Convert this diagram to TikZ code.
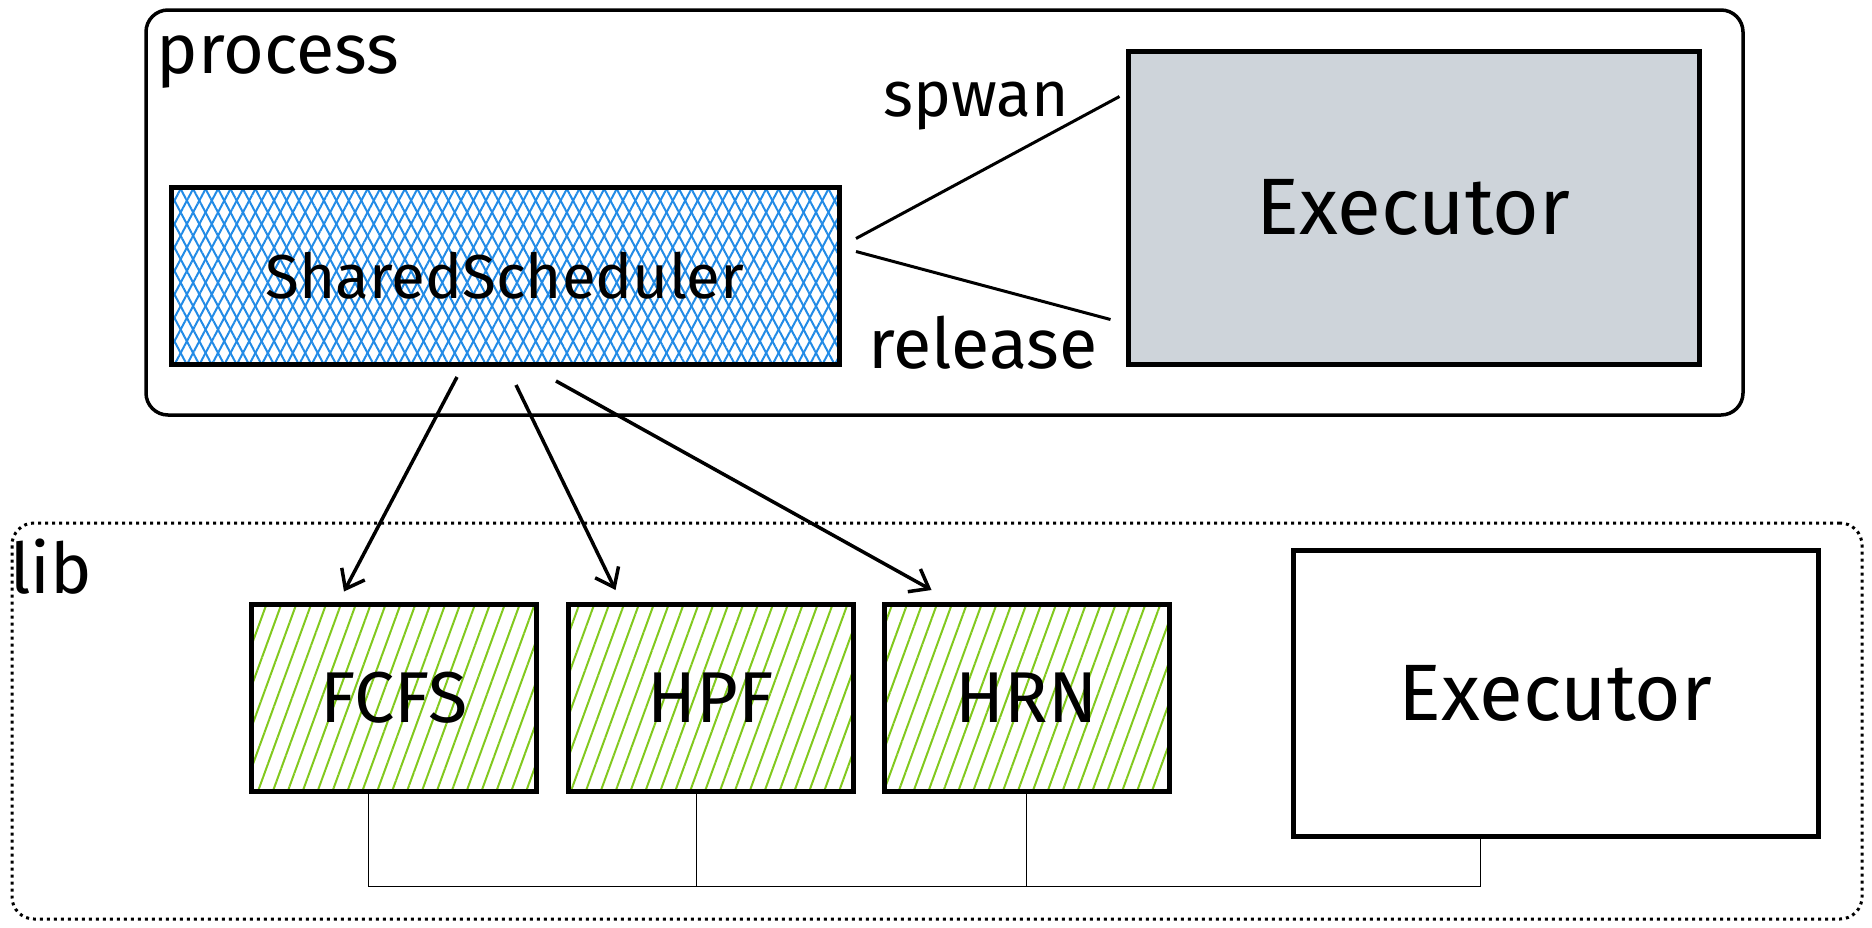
\documentclass[tikz,border=0pt]{standalone}
\usepackage{fontspec}
\setmainfont{Fira Sans}
\usepackage{tikz}
\usetikzlibrary{arrows.meta,patterns.meta,positioning}
\definecolor{hatchblue}{RGB}{34,139,230}
\definecolor{hatchgreen}{RGB}{130,201,30}
\definecolor{execgray}{RGB}{206,212,218}
\tikzset{
  procframe/.style={draw, line width=3.5pt, rounded corners=22pt},
  libframe/.style={draw, line width=3pt, rounded corners=22pt, dash pattern=on 3pt off 4pt},
  tag/.style={inner sep=0pt, font=\fontsize{64}{68}\selectfont},
  box/.style={draw, line width=5pt, inner sep=0pt, font=\fontsize{72}{76}\selectfont},
  schedbox/.style={box, font=\fontsize{62}{66}\selectfont,
    preaction={pattern={Lines[angle=62,distance=11pt,line width=2pt]}, pattern color=hatchblue},
    pattern={Lines[angle=-62,distance=11pt,line width=2pt]}, pattern color=hatchblue},
  algbox/.style={box, minimum width=285pt, minimum height=187pt,
    pattern={Lines[angle=70,distance=14pt,line width=2pt]}, pattern color=hatchgreen},
  execbox/.style={box, font=\fontsize{80}{84}\selectfont},
  flow/.style={-{Straight Barb[length=17pt,width=26pt,line width=3.5pt]}, line width=3.5pt},
  spawnline/.style={line width=3pt},
  busline/.style={line width=1pt},
}

\begin{document}
\begin{tikzpicture}[x=1pt, y=-1pt]
  \useasboundingbox (0,0) rectangle (1872,927);
  % process
  \node[procframe, minimum width=1597pt, minimum height=405pt] (proc) at (944.5,212.5) {};
  \node[tag, font=\fontsize{70}{74}\selectfont] (proclabel) at (278,62) {process};
  \node[schedbox, minimum width=668pt, minimum height=177pt] (ss) at (505,275.5) {SharedScheduler};
  \node[execbox, fill=execgray, minimum width=571pt, minimum height=313pt] (exect) at (1413.5,207.5) {Executor};
  \draw[spawnline] ([xshift=16pt,yshift=37pt]ss.east) -- ([xshift=-6pt,yshift=111pt]exect.west);
  \draw[spawnline] ([xshift=16pt,yshift=24pt]ss.east) -- ([xshift=-15pt,yshift=-112pt]exect.west);
  \node[tag] (spawnlabel) at (976,106) {spwan};
  \node[tag, font=\fontsize{70}{74}\selectfont] (releaselabel) at (983,343) {release};

  % lib
  \node[libframe, minimum width=1850pt, minimum height=396pt] (lib) at (937,721) {};
  \node[tag, font=\fontsize{70}{74}\selectfont] (liblabel) at (51,567) {lib};
  \node[algbox] (fcfs) at (394,698) {FCFS};
  \node[algbox, right=28pt of fcfs] (hpf) {HPF};
  \node[algbox, right=26pt of hpf] (hrn) {HRN};
  \node[execbox, minimum width=525pt, minimum height=286pt] (execb) at (1555.5,693) {Executor};

  \draw[flow] ([xshift=-48pt,yshift=-12pt]ss.south) -- ([xshift=-50pt,yshift=12pt]fcfs.north);
  \draw[flow] ([xshift=11pt,yshift=-20pt]ss.south) -- ([xshift=-95pt,yshift=12pt]hpf.north);
  \draw[flow] ([xshift=51pt,yshift=-16pt]ss.south) -- ([xshift=-95pt,yshift=12pt]hrn.north);

  \coordinate (fcfsdrop) at ([xshift=-26pt]fcfs.south);
  \coordinate (hpfdrop) at ([xshift=-14pt]hpf.south);
  \draw[busline] (fcfsdrop) -- ++(0,94) coordinate (bus) -| ([xshift=-75pt]execb.south);
  \draw[busline] (hpfdrop) -- (hpfdrop |- bus);
  \draw[busline] (hrn.south) -- (hrn.south |- bus);
\end{tikzpicture}
\end{document}
